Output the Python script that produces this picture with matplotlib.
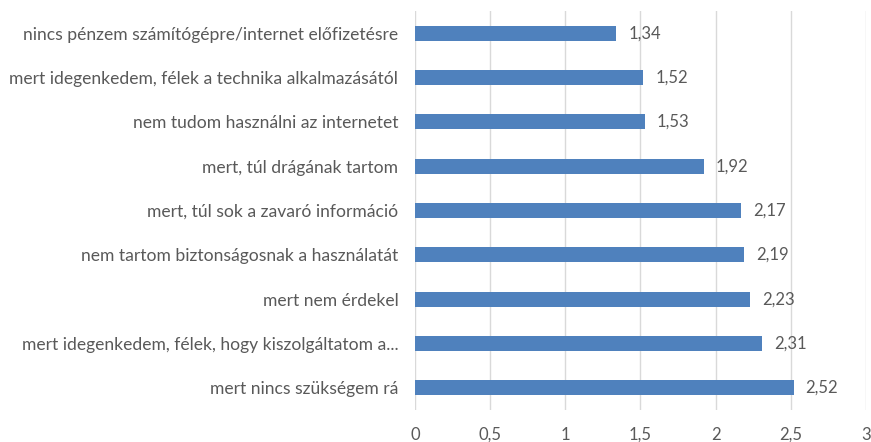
import matplotlib.pyplot as plt

# Adatok (felülről lefelé)
categories = [
    'nincs pénzem számítógépre/internet előfizetésre',
    'mert idegenkedem, félek a technika alkalmazásától',
    'nem tudom használni az internetet',
    'mert, túl drágának tartom',
    'mert, túl sok a zavaró információ',
    'nem tartom biztonságosnak a használatát',
    'mert nem érdekel',
    'mert idegenkedem, félek, hogy kiszolgáltatom a...',
    'mert nincs szükségem rá',
]
values = [1.34, 1.52, 1.53, 1.92, 2.17, 2.19, 2.23, 2.31, 2.52]
xticks = [0, 0.5, 1, 1.5, 2, 2.5, 3]

plt.rcParams['font.family'] = ['Lato', 'DejaVu Sans']
text_color = '#595959'

fig = plt.figure(figsize=(8.71, 4.42), dpi=100)
ax = fig.add_axes([0.4765, 0.0724, 0.5175, 0.9026])

pos = list(range(len(categories)))
ax.barh(pos, values, height=0.34, color='#4f81bd', zorder=3)
for p, v in zip(pos, values):
    ax.text(v + 0.08, p, f'{v:.2f}'.replace('.', ','), va='center', ha='left',
            fontsize=12, color=text_color)

ax.set_ylim(len(categories) - 0.5, -0.5)
ax.set_xlim(0, 3)
ax.set_yticks(pos)
ax.set_yticklabels(categories, fontsize=12.6, color=text_color)
ax.set_xticks(xticks)
ax.set_xticklabels([str(t).replace('.', ',') for t in xticks], fontsize=12, color=text_color)
ax.tick_params(axis='y', length=0, pad=12)
ax.tick_params(axis='x', length=0, pad=12)
ax.grid(axis='x', color='#d9d9d9', linewidth=1, zorder=0)
for s in ax.spines.values():
    s.set_visible(False)

fig.savefig('out.png', dpi=100)
